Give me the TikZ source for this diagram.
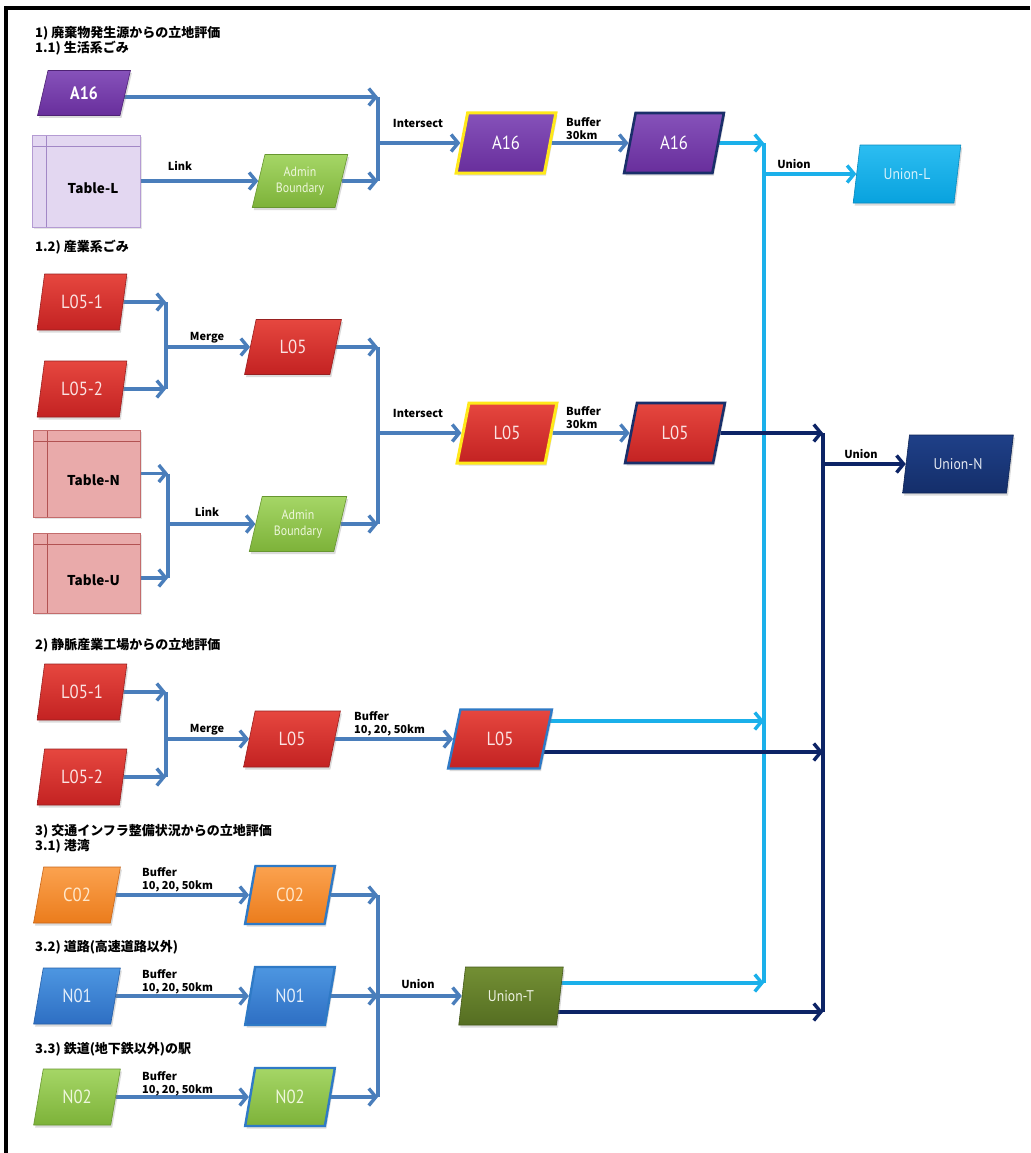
\documentclass[tikz,border=0pt]{standalone}
\usepackage{fontspec}
\setmainfont{Noto Sans CJK JP}
\newfontfamily\jpfont{Noto Sans CJK JP}
\newfontfamily\boxfont{PT Sans}[FakeStretch=0.88]
\usetikzlibrary{shapes.geometric,arrows.meta,shadows,backgrounds}

% connector colours
\definecolor{flowblue}{HTML}{4A7EBB}
\definecolor{cyanflow}{HTML}{1BB0EA}
\definecolor{navyflow}{HTML}{0D2466}
% box colours
\definecolor{purT}{HTML}{8652BA}\definecolor{purB}{HTML}{682E9C}\definecolor{purD}{HTML}{4E2275}
\definecolor{redT}{HTML}{E6473F}\definecolor{redB}{HTML}{C32222}\definecolor{redD}{HTML}{982020}\definecolor{redTx}{HTML}{FBE3E3}
\definecolor{grnT}{HTML}{A5D666}\definecolor{grnB}{HTML}{7DB239}\definecolor{grnD}{HTML}{679630}\definecolor{grnTx}{HTML}{EEF7DC}
\definecolor{orgT}{HTML}{FBA24F}\definecolor{orgB}{HTML}{EB7C1C}\definecolor{orgD}{HTML}{C7661A}\definecolor{orgTx}{HTML}{FFE8CC}
\definecolor{bluT}{HTML}{4D96E1}\definecolor{bluB}{HTML}{2E6FC3}\definecolor{bluD}{HTML}{255EA6}\definecolor{bluTx}{HTML}{E5EFFA}
\definecolor{cyaT}{HTML}{2CBDF1}\definecolor{cyaB}{HTML}{08A2DE}\definecolor{cyaD}{HTML}{0A8BBF}\definecolor{cyaTx}{HTML}{D6F2FC}
\definecolor{navT}{HTML}{1F4088}\definecolor{navB}{HTML}{142E6A}\definecolor{navD}{HTML}{0E2455}\definecolor{navTx}{HTML}{E6EAF2}
\definecolor{oliT}{HTML}{738F34}\definecolor{oliB}{HTML}{556E22}\definecolor{oliD}{HTML}{44591A}\definecolor{oliTx}{HTML}{EEF2E2}
\definecolor{tlFill}{HTML}{E3D7F1}\definecolor{tlEdge}{HTML}{B49BD3}\definecolor{tlLine}{HTML}{A287C6}
\definecolor{tnFill}{HTML}{E9AAAA}\definecolor{tnEdge}{HTML}{C36C6C}\definecolor{tnLine}{HTML}{B25252}
\definecolor{yelE}{HTML}{FFE81A}
\definecolor{navE}{HTML}{1A2F6A}
\definecolor{bluE}{HTML}{2F7AC6}

\begin{document}
\begin{tikzpicture}[x=1pt,y=-1pt,
  heading/.style={anchor=west, inner sep=0pt, font=\jpfont\bfseries\fontsize{13}{14}\selectfont},
  lbl/.style={inner sep=0pt, font=\jpfont\bfseries\fontsize{11}{13}\selectfont},
  lbltwo/.style={lbl, anchor=west, align=left},
  box/.style={shape=trapezium, trapezium left angle=73, trapezium right angle=107,
    trapezium stretches=true, inner sep=0pt, line width=0.6pt, align=center,
    drop shadow={opacity=0.28, shadow xshift=1.5pt, shadow yshift=-2.5pt},
    font=\boxfont\fontsize{19}{19}\selectfont},
  smallsz/.style={minimum width=90pt, minimum height=56pt},
  bigsz/.style={minimum width=100pt, minimum height=60pt},
  adminfont/.style={font=\boxfont\fontsize{13.5}{16}\selectfont},
  unionfont/.style={font=\boxfont\fontsize{15.5}{16}\selectfont},
  purplefill/.style={top color=purT, bottom color=purB, draw=purD, text=white},
  redfill/.style={top color=redT, bottom color=redB, draw=redD, text=redTx},
  greenfill/.style={top color=grnT, bottom color=grnB, draw=grnD, text=grnTx},
  orangefill/.style={top color=orgT, bottom color=orgB, draw=orgD, text=orgTx},
  bluefill/.style={top color=bluT, bottom color=bluB, draw=bluD, text=bluTx},
  cyanfill/.style={top color=cyaT, bottom color=cyaB, draw=cyaD, text=cyaTx},
  navyfill/.style={top color=navT, bottom color=navB, draw=navD, text=navTx},
  olivefill/.style={top color=oliT, bottom color=oliB, draw=oliD, text=oliTx},
  yellowedge/.style={draw=yelE, line width=3pt},
  navyedge/.style={draw=navE, line width=2.6pt},
  blueedge/.style={draw=bluE, line width=2.4pt},
  tablebox/.style n args={3}{rectangle, inner sep=0pt, fill=#1, draw=#2, line width=0.8pt,
    drop shadow={opacity=0.2, shadow xshift=1.5pt, shadow yshift=-2pt},
    path picture={
      \draw[draw=#3, line width=0.8pt]
        ([yshift=-11pt]path picture bounding box.north west) -- ([yshift=-11pt]path picture bounding box.north east);
      \draw[draw=#3, line width=0.8pt]
        ([xshift=14pt]path picture bounding box.north west) -- ([xshift=14pt]path picture bounding box.south west);
    }},
  tabletext/.style={label={[font=\jpfont\bfseries\fontsize{13.5}{14}\selectfont, xshift=7pt, yshift=-7pt]center:#1}},
  conn/.style={draw=flowblue, line width=3.8pt, -{Straight Barb[length=7pt,width=17pt,line width=3.4pt]}},
  cconn/.style={conn, draw=cyanflow},
  nconn/.style={conn, draw=navyflow},
  bus/.style={draw=flowblue, line width=3.8pt},
  cbus/.style={draw=cyanflow, line width=3.8pt},
  nbus/.style={draw=navyflow, line width=3.8pt},
]
\useasboundingbox (0,0) rectangle (1030,1153);

% ---------- headings ----------
\node[heading] (h1)  at (35,33)   {1) 廃棄物発生源からの立地評価};
\node[heading] (h11) at (35,48)   {1.1) 生活系ごみ};
\node[heading] (h12) at (35,247)  {1.2) 産業系ごみ};
\node[heading] (h2)  at (35,645)  {2) 静脈産業工場からの立地評価};
\node[heading] (h3)  at (35,831)  {3) 交通インフラ整備状況からの立地評価};
\node[heading] (h31) at (35,846)  {3.1) 港湾};
\node[heading] (h32) at (35,947)  {3.2) 道路(高速道路以外)};
\node[heading] (h33) at (35,1049) {3.3) 鉄道(地下鉄以外)の駅};

% ---------- 1.1 household waste ----------
\node[box, purplefill, font=\boxfont\bfseries\fontsize{18}{18}\selectfont,
      minimum width=93pt, minimum height=45pt] (a16) at (84,93) {A16};
\node[tablebox={tlFill}{tlEdge}{tlLine}, tabletext=Table-L,
      minimum width=108pt, minimum height=92pt] (tabL) at (86,181) {};
\node[box, greenfill, adminfont, minimum width=96pt, minimum height=53pt] (adm1) at (300,181) {Admin\\Boundary};
\node[box, purplefill, yellowedge, bigsz] (ia16) at (506,143) {A16};
\node[box, purplefill, navyedge, bigsz] (ba16) at (674,143) {A16};
\node[box, cyanfill, unionfont, minimum width=108pt, minimum height=58pt] (unionL) at (907,174) {Union-L};

\coordinate (j11a) at (378,97);
\coordinate (j11b) at (378,181);
\coordinate (j11m) at (378,143);
\coordinate (jc1)  at (764,143);
\coordinate (jcu)  at (764,174);

\node[lbl] (tlink1) at (180,166) {Link};
\node[lbl] (tint1)  at (418,123) {Intersect};
\node[lbltwo] (tbuf1) at (566,129) {Buffer\\30km};
\node[lbl] (tun1)   at (794,164) {Union};

% ---------- 1.2 industrial waste ----------
\node[box, redfill, smallsz] (l051) at (82,302) {L05-1};
\node[box, redfill, smallsz] (l052) at (82,389) {L05-2};
\node[box, redfill, minimum width=97pt, minimum height=55pt] (l05m) at (293,347) {L05};
\node[tablebox={tnFill}{tnEdge}{tnLine}, tabletext=Table-N,
      minimum width=107pt, minimum height=87pt] (tabN) at (86.5,473.5) {};
\node[tablebox={tnFill}{tnEdge}{tnLine}, tabletext=Table-U,
      minimum width=107pt, minimum height=80pt] (tabU) at (86.5,573) {};
\node[box, greenfill, adminfont, minimum width=98pt, minimum height=55pt] (adm2) at (298,524) {Admin\\Boundary};
\node[box, redfill, yellowedge, bigsz] (il05) at (507,433) {L05};
\node[box, redfill, navyedge, bigsz] (bl05) at (675,433) {L05};
\node[box, navyfill, unionfont, minimum width=111pt, minimum height=58pt] (unionN) at (958,464) {Union-N};

\coordinate (j12a) at (166,302);
\coordinate (j12b) at (166,389);
\coordinate (j12m) at (166,347);
\coordinate (j12c) at (378,347);
\coordinate (j12d) at (168,473.5);
\coordinate (j12e) at (168,578);
\coordinate (j12f) at (168,524);
\coordinate (j12g) at (378,524);
\coordinate (j12h) at (378,433);
\coordinate (jn1)  at (823,433);
\coordinate (jnu)  at (823,464);

\node[lbl] (tmerge1) at (207,338) {Merge};
\node[lbl] (tlink2)  at (207,512) {Link};
\node[lbl] (tint2)   at (418,413) {Intersect};
\node[lbltwo] (tbuf2) at (566,418) {Buffer\\30km};
\node[lbl] (tun2)    at (861,454) {Union};

% ---------- 2 recycling plants ----------
\node[box, redfill, smallsz] (l051b) at (82,692) {L05-1};
\node[box, redfill, smallsz] (l052b) at (82,777) {L05-2};
\node[box, redfill, minimum width=97pt, minimum height=56pt] (l05m2) at (292,739) {L05};
\node[box, redfill, blueedge, minimum width=104pt, minimum height=59pt] (l05b2) at (500,739) {L05};

\coordinate (j2a) at (166,692);
\coordinate (j2b) at (166,777);
\coordinate (j2m) at (166,739);
\coordinate (jc2) at (764,721);
\coordinate (jn2) at (823,752);

\node[lbl] (tmerge2) at (207,730) {Merge};
\node[lbltwo] (tbuf3) at (354,724) {Buffer\\10, 20, 50km};

% ---------- 3 transport infrastructure ----------
\node[box, orangefill, minimum width=87pt, minimum height=56pt] (c02)  at (77,895)  {C02};
\node[box, orangefill, blueedge, minimum width=90pt, minimum height=58pt] (c02b) at (290,895) {C02};
\node[box, bluefill, minimum width=87pt, minimum height=56pt] (n01)  at (77,996)  {N01};
\node[box, bluefill, blueedge, minimum width=90pt, minimum height=58pt] (n01b) at (290,996) {N01};
\node[box, greenfill, minimum width=87pt, minimum height=56pt] (n02)  at (77,1097) {N02};
\node[box, greenfill, blueedge, minimum width=90pt, minimum height=58pt] (n02b) at (290,1097) {N02};
\node[box, olivefill, unionfont, minimum width=105pt, minimum height=58pt] (unionT) at (511,996) {Union-T};

\coordinate (j3a) at (378,895);
\coordinate (j3m) at (378,996);
\coordinate (j3b) at (378,1097);
\coordinate (jc3) at (764,983);
\coordinate (jn3) at (823,1012);

\node[lbltwo] (tbuf4) at (142,880)  {Buffer\\10, 20, 50km};
\node[lbltwo] (tbuf5) at (142,982)  {Buffer\\10, 20, 50km};
\node[lbltwo] (tbuf6) at (142,1084) {Buffer\\10, 20, 50km};
\node[lbl] (tun3) at (418,984) {Union};

% ---------- frame ----------
\draw[line width=4pt] (1030,8.5) -- (5.5,8.5) -- (5.5,1153);

% ---------- connectors ----------
\begin{scope}[on background layer]
  \fill[white] (0,0) rectangle (1030,1153);
  % 1.1
  \draw[conn] (a16.center |- j11a) -- (j11a);
  \draw[conn] (tabL) -- (adm1);
  \draw[conn] (adm1) -- (j11b);
  \draw[bus]  (j11a) -- (j11b);
  \draw[conn] (j11m) -- (ia16);
  \draw[conn] (ia16) -- (ba16);
  % 1.2
  \draw[conn] (l051) -- (j12a);
  \draw[conn] (l052) -- (j12b);
  \draw[bus]  (j12a) -- (j12b);
  \draw[conn] (j12m) -- (l05m);
  \draw[conn] (l05m) -- (j12c);
  \draw[conn] (tabN) -- (j12d);
  \draw[conn] (tabU.center |- j12e) -- (j12e);
  \draw[bus]  (j12d) -- (j12e);
  \draw[conn] (j12f) -- (adm2);
  \draw[conn] (adm2) -- (j12g);
  \draw[bus]  (j12c) -- (j12g);
  \draw[conn] (j12h) -- (il05);
  \draw[conn] (il05) -- (bl05);
  % 2
  \draw[conn] (l051b) -- (j2a);
  \draw[conn] (l052b) -- (j2b);
  \draw[bus]  (j2a) -- (j2b);
  \draw[conn] (j2m) -- (l05m2);
  \draw[conn] (l05m2) -- (l05b2);
  % 3
  \draw[conn] (c02) -- (c02b);
  \draw[conn] (n01) -- (n01b);
  \draw[conn] (n02) -- (n02b);
  \draw[conn] (c02b) -- (j3a);
  \draw[conn] (n01b) -- (j3m);
  \draw[conn] (n02b) -- (j3b);
  \draw[bus]  (j3a) -- (j3b);
  \draw[conn] (j3m) -- (unionT);
  % light blue collector
  \draw[cbus]  (jc1) -- (jc3);
  \draw[cconn] (ba16) -- (jc1);
  \draw[cconn] (l05b2.center |- jc2) -- (jc2);
  \draw[cconn] (unionT.center |- jc3) -- (jc3);
  \draw[cconn] (jcu) -- (unionL);
  % dark blue collector
  \draw[nbus]  (jn1) -- (jn3);
  \draw[nconn] (bl05) -- (jn1);
  \draw[nconn] (l05b2.center |- jn2) -- (jn2);
  \draw[nconn] (unionT.center |- jn3) -- (jn3);
  \draw[nconn] (jnu) -- (unionN);
\end{scope}
\end{tikzpicture}
\end{document}
